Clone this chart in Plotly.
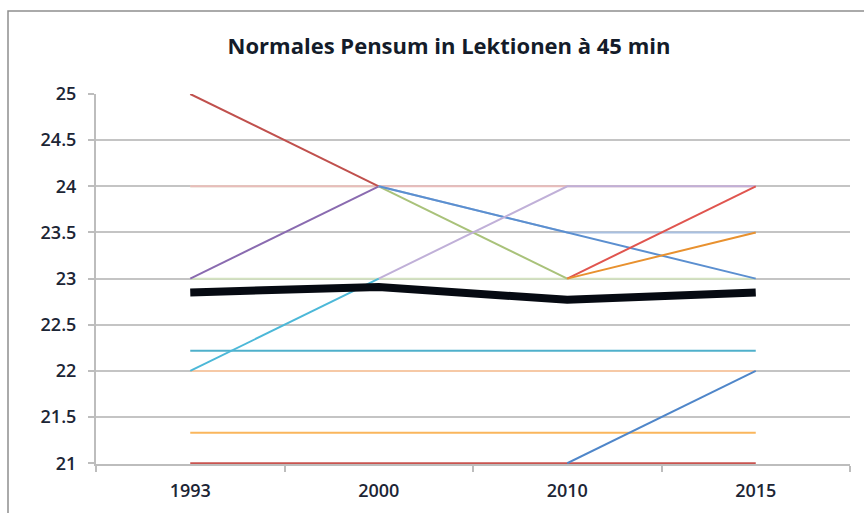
import plotly.graph_objects as go

years = ["1993", "2000", "2010", "2015"]
y_ticks = [21, 21.5, 22, 22.5, 23, 23.5, 24, 24.5, 25]
y_tick_labels = ["21", "21.5", "22", "22.5", "23", "23.5", "24", "24.5", "25"]

# series values (None = not visible / no value)
s_pale_green_24 = [24, 24, None, None]
s_pink_24 = [24, 24, 24, 24]
s_pale_green_23 = [23, 23, 23, 23]
s_peach_22 = [22, 22, 22, 22]
s_cyan_2222 = [22.22, 22.22, 22.22, 22.22]
s_orange_2133 = [21.33, 21.33, 21.33, 21.33]
s_red_21 = [21, 21, 21, 21]
s_darkred = [25, 24, None, None]
s_purple = [23, 24, None, None]
s_olive = [None, 24, 23, None]
s_lightblue = [None, 24, 23.5, 23.5]
s_blue = [None, 24, 23.5, 23]
s_lavender = [None, 23, 24, 24]
s_cyan = [22, 23, None, None]
s_red = [None, None, 23, 24]
s_orange = [None, None, 23, 23.5]
s_blue_low = [None, None, 21, 22]
s_average = [22.85, 22.91, 22.77, 22.85]

series = [
    ("A", s_pale_green_24, "#d6e3bf", 2),
    ("B", s_pink_24, "#e9bcbb", 2),
    ("C", s_pale_green_23, "#d3e2c0", 2),
    ("D", s_peach_22, "#f6c9a6", 2),
    ("E", s_cyan_2222, "#4fb0cb", 2),
    ("F", s_orange_2133, "#fab65c", 2),
    ("G", s_red_21, "#c9534f", 2),
    ("H", s_darkred, "#c0504d", 2),
    ("I", s_purple, "#8a6bb0", 2),
    ("J", s_olive, "#a9c27a", 2),
    ("K", s_lightblue, "#a9c0e0", 2),
    ("L", s_blue, "#5b8fd0", 2),
    ("M", s_lavender, "#c0b0d8", 2),
    ("N", s_cyan, "#4cb8d8", 2),
    ("O", s_red, "#e0554f", 2),
    ("P", s_orange, "#e8912f", 2),
    ("Q", s_blue_low, "#4f86c9", 2),
    ("Durchschnitt", s_average, "#060a12", 8),
]

fig = go.Figure()
for name, vals, color, w in series:
    fig.add_trace(go.Scatter(
        x=years, y=vals, mode="lines", name=name,
        line=dict(color=color, width=w), connectgaps=False,
        hoverinfo="x+y+name",
    ))

W, H = 864, 513
L, R, T, B = 96, 14, 94, 49
pw, ph = W - L - R, H - T - B

def px_x(p):
    return (p - L) / pw

def px_y(p):
    return 1 - (p - T) / ph

fig.add_shape(type="rect", xref="paper", yref="paper",
              x0=px_x(8), x1=px_x(880), y0=px_y(530), y1=px_y(11),
              line=dict(color="#8e8e8e", width=1.5), fillcolor="rgba(0,0,0,0)",
              layer="below")

tick_font = dict(family="Open Sans", size=18, color="#1c2535", weight=600)

fig.update_layout(
    width=W, height=H,
    margin=dict(l=L, r=R, t=T, b=B),
    paper_bgcolor="white", plot_bgcolor="white",
    showlegend=False,
    title=dict(text="Normales Pensum in Lektionen à 45 min",
               x=449 / W, xanchor="center", y=1 - 46 / H, yanchor="middle",
               font=dict(family="Open Sans", size=22, color="#141c2a", weight=700)),
    font=dict(family="Open Sans", color="#1c2535"),
)
fig.update_xaxes(
    type="category", range=[-0.5, 3.5],
    showgrid=False, showline=True, linecolor="#bdbdbd", linewidth=2,
    ticks="outside", tickson="boundaries", ticklen=6, tickcolor="#bdbdbd", tickwidth=2,
    tickfont=tick_font, ticklabelstandoff=9, layer="below traces",
)
fig.update_yaxes(
    range=[20.992, 25], tickvals=y_ticks, ticktext=y_tick_labels,
    showgrid=True, gridcolor="#c4c4c4", gridwidth=2,
    showline=True, linecolor="#bdbdbd", linewidth=2,
    ticks="outside", ticklen=6, tickcolor="#bdbdbd", tickwidth=2,
    tickfont=tick_font, ticklabelstandoff=8, zeroline=False, layer="below traces",
)

fig.write_html(
    "out.html",
    config={"displayModeBar": False},
    post_script="document.body.style.margin='0';document.body.style.padding='0';",
)
